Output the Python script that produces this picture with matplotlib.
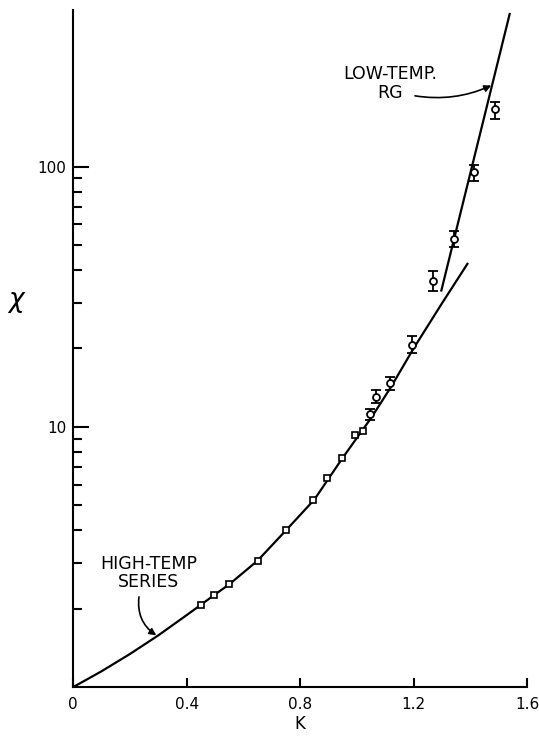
"""Susceptibility chi vs K: high-temp series, low-temp RG line and MC points."""
import matplotlib
matplotlib.use("Agg")
import matplotlib.pyplot as plt
from matplotlib.ticker import FixedLocator, NullFormatter

# high-temperature series curve
series_k = [0, 0.1, 0.2, 0.3, 0.4, 0.45, 0.5, 0.55, 0.65, 0.75, 0.85, 0.95, 1.05, 1.12, 1.2, 1.3, 1.39]
series_chi = [1.0, 1.15, 1.34, 1.58, 1.89, 2.07, 2.27, 2.48, 3.06, 4.0, 5.25, 7.6, 10.8, 14.2, 20.0, 29.8, 42.3]

# low-temperature RG line
rg_k = [1.298, 1.539]
rg_chi = [33.4, 386]

# square points (no error bars)
sq_k = [0.449, 0.497, 0.549, 0.650, 0.749, 0.846, 0.896, 0.947, 0.993, 1.021]
sq_chi = [2.07, 2.26, 2.48, 3.06, 4.02, 5.24, 6.34, 7.62, 9.27, 9.61]

# circle points with error bars
ci_k = [1.047, 1.067, 1.118, 1.195, 1.269, 1.343, 1.412, 1.486]
ci_chi = [11.2, 13.0, 14.7, 20.6, 36.3, 52.8, 95.1, 166.5]
ci_lo = [10.6, 12.3, 13.9, 19.2, 33.4, 49.0, 88.4, 152.4]
ci_hi = [11.7, 13.8, 15.5, 22.3, 39.8, 56.8, 101.5, 176.6]

xticks = [0, 0.4, 0.8, 1.2, 1.6]
xticklabels = ["0", "0.4", "0.8", "1.2", "1.6"]
yticks = [10, 100]
yminor = [2, 3, 4, 5, 6, 7, 8, 9, 20, 30, 40, 50, 60, 70, 80, 90]

plt.rcParams["font.family"] = ["DejaVu Sans"]

fig = plt.figure(figsize=(5.39, 7.40), dpi=100)
ax = fig.add_axes([0.136, 0.0716, 0.8417, 0.915])

ax.plot(series_k, series_chi, color="black", lw=1.6, zorder=2)
ax.plot(rg_k, rg_chi, color="black", lw=1.6, zorder=2)
ax.plot(sq_k, sq_chi, ls="none", marker="s", ms=4.5, mfc="white", mec="black", mew=1.2, zorder=3)
yerr = [[c - l for c, l in zip(ci_chi, ci_lo)], [h - c for c, h in zip(ci_chi, ci_hi)]]
ax.errorbar(ci_k, ci_chi, yerr=yerr, fmt="o", ms=5, mfc="white", mec="black", mew=1.3,
            ecolor="black", elinewidth=1.3, capsize=3.8, capthick=1.5, zorder=3)

ax.set_yscale("log")
ax.set_xlim(0, 1.6)
ax.set_ylim(1, 400)

ax.spines["top"].set_visible(False)
ax.spines["right"].set_visible(False)
ax.spines["left"].set_linewidth(1.5)
ax.spines["bottom"].set_linewidth(1.5)

ax.set_xticks(xticks)
ax.set_xticklabels(xticklabels, fontsize=11)
ax.yaxis.set_major_locator(FixedLocator(yticks))
ax.set_yticklabels(["10", "100"], fontsize=11)
ax.yaxis.set_minor_locator(FixedLocator(yminor))
ax.yaxis.set_minor_formatter(NullFormatter())
ax.tick_params(axis="x", direction="in", length=6.5, width=1.5, pad=7)
ax.tick_params(axis="y", which="major", direction="in", length=11.5, width=1.5, pad=5)
ax.tick_params(axis="y", which="minor", direction="in", length=6.5, width=1.5)

ax.set_xlabel("K", fontsize=12, labelpad=2)
ax.set_ylabel(r"$\chi$", fontsize=19, rotation=0)
ax.yaxis.set_label_coords(-0.124, 0.55)

ax.text(0.266, 2.74, "HIGH-TEMP\nSERIES", fontsize=12.5, ha="center", va="center",
        linespacing=1.05)
ax.annotate("", xy=(0.2926, 1.58), xytext=(0.2316, 2.22),
            arrowprops=dict(arrowstyle="-|>", color="black", lw=1.2, mutation_scale=10,
                            shrinkA=0, shrinkB=0, connectionstyle="arc3,rad=0.3"))

ax.text(1.118, 208, "LOW-TEMP.\nRG", fontsize=12.5, ha="center", va="center",
        linespacing=1.05)
ax.annotate("", xy=(1.474, 205), xytext=(1.205, 187),
            arrowprops=dict(arrowstyle="-|>", color="black", lw=1.2, mutation_scale=10,
                            shrinkA=0, shrinkB=0, connectionstyle="arc3,rad=0.15"))

fig.savefig("out.png", dpi=100)
print("wrote out.png")
